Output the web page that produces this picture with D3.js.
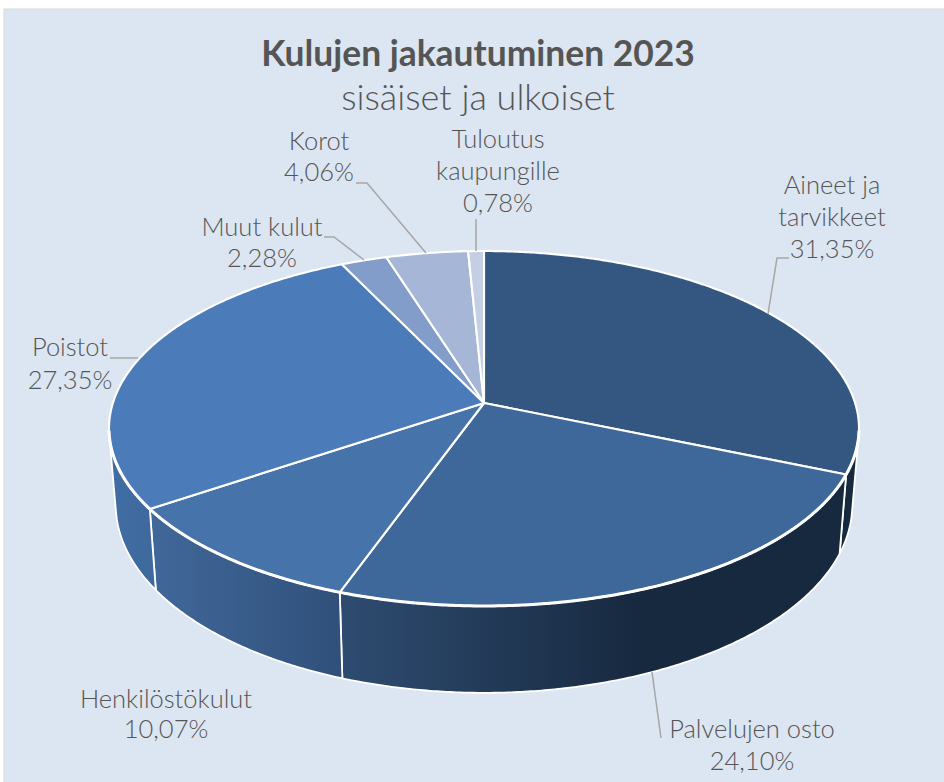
<!DOCTYPE html>
<html>
<head>
<meta charset="utf-8">
<script src="https://cdn.jsdelivr.net/npm/d3@7"></script>
<style>
  html, body { margin: 0; padding: 0; background: #fff; }
  text { font-family: Lato, "Open Sans", sans-serif; fill: #555; }
</style>
</head>
<body>
<svg id="chart" width="944" height="782"></svg>
<script>
// Data
var categories = ["Aineet ja tarvikkeet", "Palvelujen osto", "Henkilöstökulut", "Poistot", "Muut kulut", "Korot", "Tuloutus kaupungille"];
var values = [31.35, 24.10, 10.07, 27.35, 2.28, 4.06, 0.78];
var topColors = ["#345781", "#3e6899", "#4673aa", "#4b7cb9", "#829dc9", "#a6b6d7", "#c4cfe4"];
var wallColors = [["#16293f", "#16293f"], ["#2e4c71", "#17293f"], ["#41689a", "#30507a"], ["#416da3", "#3f699d"], ["#5f7da8", "#5f7da8"], ["#7b8dab", "#7b8dab"], ["#8f9bb0", "#8f9bb0"]];

// Label layout: text lines, centre x, first baseline, line gaps
var labelLines = [["Aineet ja", "tarvikkeet"], ["Palvelujen osto"], ["Henkilöstökulut"], ["Poistot"], ["Muut kulut"], ["Korot"], ["Tuloutus", "kaupungille"]];
var labelX = [832, 752, 166, 70, 262, 319, 498];
var labelY = [194, 738, 708, 356, 236, 150, 148];
var labelGap = [32, 32, 30, 33, 31, 31, 32];
var leaders = [
  [[789, 258], [777, 258], [768, 314]],
  [[652, 672], [661, 738]],
  null,
  [[110, 358], [138, 358]],
  [[324, 237], [334, 237], [364, 260]],
  [[356, 183], [367, 183], [426, 253]],
  [[476, 219], [476, 251]]
];

var svg = d3.select("#chart");
var defs = svg.append("defs");

svg.append("rect")
  .attr("x", 4).attr("y", 9)
  .attr("width", 945).attr("height", 780)
  .attr("fill", "#dce6f2")
  .attr("stroke", "#d9d9d9");

// Perspective projection of the disc
var cx = 484, cy = 403;
var a = 371.1, b = 173.8, k = 0.1437;

function topPoint(t) {
  var x = Math.sin(t), y = -Math.cos(t), w = 1 - k * y;
  return [cx + a * x / w, cy + b * y / w];
}
function bottomPoint(t) {
  var p = topPoint(t);
  return [cx + (p[0] - cx) * 0.982, p[1] * 1.059 + 51.1];
}
// wall faces the viewer where the arc tangent and the depth vector turn the right way
function wallVisible(t) {
  var d = 0.001;
  var p0 = topPoint(t - d), p1 = topPoint(t + d), p = topPoint(t), q = bottomPoint(t);
  return (p1[0] - p0[0]) * (q[1] - p[1]) - (p1[1] - p0[1]) * (q[0] - p[0]) < 0;
}
function arcAngles(t0, t1) {
  var n = Math.max(2, Math.ceil((t1 - t0) / 0.008));
  return d3.range(n + 1).map(function (i) { return t0 + (t1 - t0) * i / n; });
}

var pie = d3.pie().sort(null).value(function (d) { return d; });
var arcs = pie(values);
var line = d3.line();

// Walls
var walls = svg.append("g");
arcs.forEach(function (d, i) {
  var ts = arcAngles(d.startAngle, d.endAngle).filter(wallVisible);
  if (ts.length < 2) return;
  var tops = ts.map(topPoint), bots = ts.map(bottomPoint).reverse();
  var xs = tops.concat(bots).map(function (p) { return p[0]; });
  var g = defs.append("linearGradient")
    .attr("id", "wall" + i)
    .attr("gradientUnits", "userSpaceOnUse")
    .attr("x1", d3.min(xs)).attr("x2", i === 1 ? 640 : d3.max(xs))
    .attr("y1", 0).attr("y2", 0);
  g.append("stop").attr("offset", "0%").attr("stop-color", wallColors[i][0]);
  g.append("stop").attr("offset", "100%").attr("stop-color", wallColors[i][1]);
  walls.append("path")
    .attr("d", line(tops.concat(bots)) + "Z")
    .attr("fill", "url(#wall" + i + ")")
    .attr("stroke", "#fff")
    .attr("stroke-width", 1.8)
    .attr("stroke-linejoin", "round");
});

// Top face
var faces = svg.append("g");
arcs.forEach(function (d, i) {
  var pts = [[cx, cy]].concat(arcAngles(d.startAngle, d.endAngle).map(topPoint));
  faces.append("path")
    .attr("d", line(pts) + "Z")
    .attr("fill", topColors[i])
    .attr("stroke", "#fff")
    .attr("stroke-width", 2.1)
    .attr("stroke-linejoin", "round");
});
// heavier rim along the front edge
svg.append("path")
  .attr("d", line(arcAngles(Math.PI * 0.55, Math.PI * 1.45).map(topPoint)))
  .attr("fill", "none")
  .attr("stroke", "#fff")
  .attr("stroke-width", 3);

// Leader lines
svg.append("g").selectAll("path")
  .data(leaders.filter(Boolean))
  .join("path")
  .attr("d", function (d) { return line(d); })
  .attr("fill", "none")
  .attr("stroke", "#a6a6a6")
  .attr("stroke-width", 1.5);

// Labels
var fmt = d3.format(".2f");
categories.forEach(function (c, i) {
  var lines = labelLines[i].concat([fmt(values[i]).replace(".", ",") + "%"]);
  svg.append("g").selectAll("text")
    .data(lines)
    .join("text")
    .attr("x", labelX[i])
    .attr("y", function (d, j) { return labelY[i] + j * labelGap[i]; })
    .attr("text-anchor", "middle")
    .attr("font-size", 25.5)
    .attr("font-weight", 300)
    .text(function (d) { return d; });
});

// Titles
svg.append("text")
  .attr("x", 478).attr("y", 66)
  .attr("text-anchor", "middle")
  .attr("font-size", 35.4)
  .attr("font-weight", 700)
  .text("Kulujen jakautuminen 2023");
svg.append("text")
  .attr("x", 478).attr("y", 110)
  .attr("text-anchor", "middle")
  .attr("font-size", 36)
  .attr("font-weight", 300)
  .text("sisäiset ja ulkoiset");
</script>
</body>
</html>
